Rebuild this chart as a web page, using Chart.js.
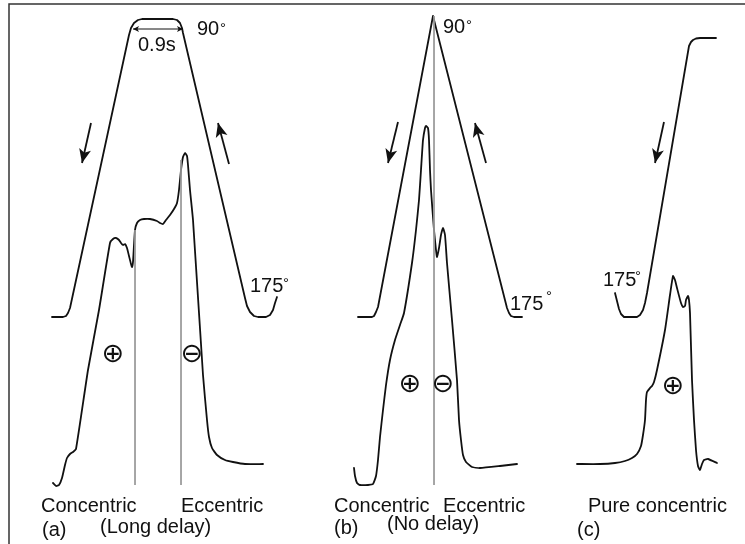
<!DOCTYPE html>
<html><head><meta charset="utf-8">
<script src="https://cdn.jsdelivr.net/npm/chart.js@4/dist/chart.umd.min.js"></script>
<style>html,body{margin:0;padding:0;background:#fff;}canvas{display:block;}</style>
</head><body>
<canvas id="c" width="745" height="544"></canvas>
<script>
// ---- Data (time axis x, value axis y; y axis is inverted) ----
const angleA_t = [52,63,66,68,70,129,131,134,138,142,173,177,180,182,183,245,247,250,254,258,266,270,273,275,277];
const angleA_v = [317,317,316,313,308,35,28,23,20,19,19,20,23,28,33,298,306,312,316,317,317,315,310,303,297];
const forceA_t = [53,56,59,62,65,67,70,73,76,88,99,110,113,116,119,121,123,125,127,129,131,132,133,134,135,137,140,144,150,157,160,163,166,170,174,177,179,181,183,185,187,188,190,193,203,207,209,212,217,225,233,245,263];
const forceA_v = [483,486,485,478,465,458,454,452,449,370,310,243,239,238,240,243,245,244,248,256,264,267,262,245,230,223,220,219,219,221,223,224,220,215,209,203,190,170,157,153,156,165,190,220,375,420,437,448,455,460,462,464,464];
const angleB_t = [358,372,374,376,378,433,507,509,511,514,522];
const angleB_v = [317,317,316,312,307,16,308,313,316,317,317];
const forceB_t = [354,355,357,360,368,373,376,378,380,383,386,390,395,400,404,412,416,419,421,423,425,426,428,429,430,431,434,436,437,439,441,443,445,447,452,457,459,461,463,466,472,480,500,517];
const forceB_v = [468,476,483,485,485,484,476,460,437,410,385,360,340,325,313,263,230,200,170,140,128,126,128,140,170,190,230,250,257,248,235,228,235,263,320,380,420,440,455,462,467,468,466,464];
const angleC_t = [716,700,696,693,691,689,647,645,643,640,637,624,621,619,617,615];
const angleC_v = [38,38,38.5,40,42,46,293,303,310,315,317,317,314,309,301,293];
const forceC_t = [577,600,615,625,632,637,641,643,645,646,647,650,652,654,657,665,670,673,675,677,681,683,685,686,688,689,690,692,694,696,698,700,702,704,708,717];
const forceC_v = [464,464,463,461,458,454,446,435,420,400,392,388,386,382,370,330,295,276,280,288,303,307,306,300,296,300,313,380,420,450,466,470,464,460,459,463];
// phase markers (vertical guides): time, top, bottom
const guide_t = [135,181,434];
const guide_top = [230,160,16];
const guide_bottom = [485,485,485];
// direction arrows: tail -> head
const arrow_t0 = [91,229,398,486,664];
const arrow_v0 = [123,164,122,163,122];
const arrow_t1 = [82,218,388,475,655];
const arrow_v1 = [163,123,163,123,163];
// hold duration marker (0.9s)
const hold_t = [133,183];
const hold_v = [29,29];
// frame
const frame_t = [9,9,745];
const frame_v = [544,4,4];
// labels
const labelText = ["90","0.9s","175","90","175","175","Concentric","Eccentric","(a)","(Long delay)","Concentric","Eccentric","(b)","(No delay)","Pure concentric","(c)"];
const labelT    = [197,138,250,443,510,603,41,181,42,100,334,443,334,387,588,577];
const labelV    = [35,51,292,33,310,286,512,512,536,533,512,512,534,530,512,536];
const degreeT = [220,283,466,546,635];
const degreeV = [33,288,30,301,281];
const signText = ["⊕","⊖","⊕","⊖","⊕"];
const signT = [113,192,410,443,673];
const signV = [355,355,385,385,387];

const pts = (t,v) => t.map((x,i)=>({x, y:v[i]}));
const ds = [];
const black = '#111';
ds.push({data: pts(frame_t, frame_v), borderColor:'#333', borderWidth:1.5, tension:0});
guide_t.forEach((t,i)=>ds.push({data:[{x:t,y:guide_top[i]},{x:t,y:guide_bottom[i]}], borderColor:'#9a9a9a', borderWidth:1, tension:0}));
[[angleA_t,angleA_v,0],[forceA_t,forceA_v,0.15],[angleB_t,angleB_v,0],[forceB_t,forceB_v,0.15],[angleC_t,angleC_v,0],[forceC_t,forceC_v,0.15]].forEach(([t,v,k])=>
  ds.push({data:pts(t,v), borderColor:black, borderWidth:1.8, tension:k, borderJoinStyle:'round', borderCapStyle:'round'}));
arrow_t0.forEach((t,i)=>ds.push({data:[{x:t,y:arrow_v0[i]},{x:arrow_t1[i],y:arrow_v1[i]}], borderColor:black, borderWidth:1.8, tension:0, arrow:'end'}));
ds.push({data:pts(hold_t, hold_v), borderColor:black, borderWidth:1, tension:0, arrow:'both'});

function head(ctx, x0,y0,x1,y1,len,hw){
  const a = Math.atan2(y1-y0, x1-x0);
  const c=Math.cos(a), s=Math.sin(a);
  ctx.beginPath();
  ctx.moveTo(x1,y1);
  ctx.lineTo(x1 - len*c + hw*s, y1 - len*s - hw*c);
  ctx.lineTo(x1 - len*0.75*c, y1 - len*0.75*s);
  ctx.lineTo(x1 - len*c - hw*s, y1 - len*s + hw*c);
  ctx.closePath(); ctx.fill();
}
const deco = {
  id:'deco',
  afterDatasetsDraw(chart){
    const ctx = chart.ctx, xs = chart.scales.x, ys = chart.scales.y;
    ctx.save();
    ctx.fillStyle = black;
    chart.data.datasets.forEach(d=>{
      if(!d.arrow) return;
      const p = d.data.map(q=>[xs.getPixelForValue(q.x), ys.getPixelForValue(q.y)]);
      const big = d.arrow==='end';
      const L = big?14:6, H = big?6:3;
      head(ctx, p[0][0],p[0][1],p[1][0],p[1][1],L,H);
      if(d.arrow==='both') head(ctx, p[1][0],p[1][1],p[0][0],p[0][1],L,H);
    });
    ctx.textBaseline='alphabetic'; ctx.textAlign='left';
    ctx.font = '20px "Liberation Sans", Arial, sans-serif';
    labelText.forEach((s,i)=>ctx.fillText(s, xs.getPixelForValue(labelT[i]), ys.getPixelForValue(labelV[i])));
    ctx.font = '15px "Liberation Sans", Arial, sans-serif';
    degreeT.forEach((t,i)=>ctx.fillText('°', xs.getPixelForValue(t), ys.getPixelForValue(degreeV[i])));
    ctx.textAlign='center'; ctx.textBaseline='middle';
    ctx.font = '27px "DejaVu Sans", sans-serif';
    signText.forEach((s,i)=>ctx.fillText(s, xs.getPixelForValue(signT[i]), ys.getPixelForValue(signV[i])));
    ctx.restore();
  }
};

new Chart(document.getElementById('c'), {
  type:'scatter',
  data:{datasets:ds},
  options:{
    responsive:false, animation:false, devicePixelRatio:1,
    layout:{padding:0},
    showLine:true,
    elements:{point:{radius:0, hoverRadius:0}, line:{fill:false}},
    plugins:{legend:{display:false}, tooltip:{enabled:false}},
    scales:{
      x:{type:'linear', min:0, max:745, display:false},
      y:{type:'linear', min:0, max:544, reverse:true, display:false}
    }
  },
  plugins:[deco]
});
</script>
</body></html>
